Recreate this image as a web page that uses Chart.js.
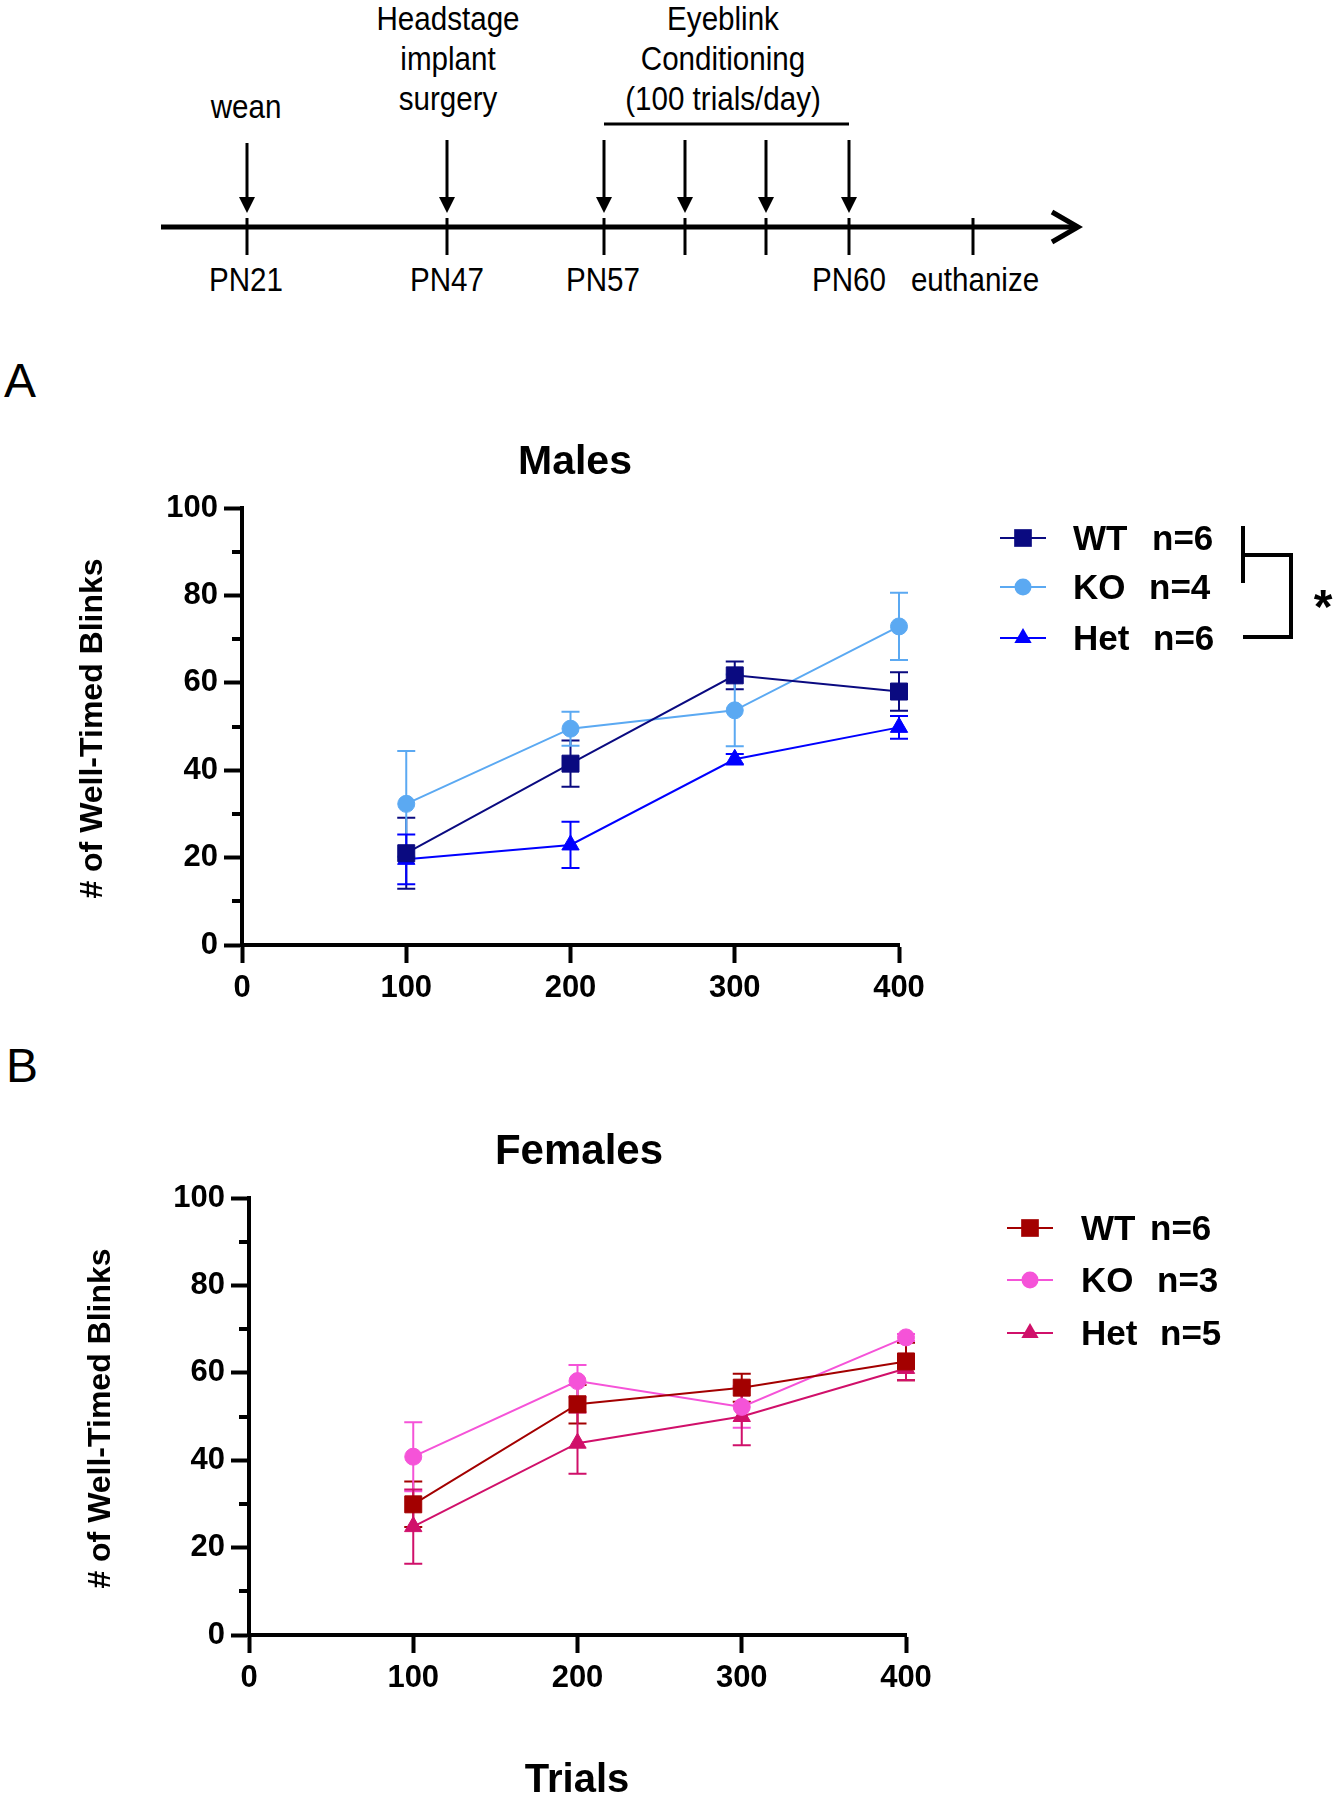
<!DOCTYPE html>
<html>
<head>
<meta charset="utf-8">
<script src="https://cdn.jsdelivr.net/npm/chart.js@4.4.0/dist/chart.umd.min.js"></script>
<style>
html,body{margin:0;padding:0;background:#fff;}
body{width:1340px;height:1800px;position:relative;overflow:hidden;}
#page{position:absolute;left:0;top:0;}
canvas{position:absolute;left:0;}
#cA{top:400px;}
#cB{top:1090px;}
</style>
</head>
<body>
<svg id="page" width="1340" height="1800" xmlns="http://www.w3.org/2000/svg">
  <g stroke="#000" fill="none">
    <line x1="161" y1="227" x2="1076" y2="227" stroke-width="5"/>
    <polyline points="1052,212 1078,227 1052,242" stroke-width="5"/>
    <line x1="604" y1="124" x2="849" y2="124" stroke-width="3"/>
  </g>
  <g id="ticks" stroke="#000" stroke-width="3"></g>
  <g id="arrows"></g>
  <g id="tltext" font-family="'Liberation Sans',Arial,sans-serif" font-size="34" text-anchor="middle" fill="#000"></g>
  <text x="4" y="397" font-family="'Liberation Sans',Arial,sans-serif" font-size="48" fill="#000">A</text>
  <text x="6" y="1082" font-family="'Liberation Sans',Arial,sans-serif" font-size="48" fill="#000">B</text>
</svg>
<canvas id="cA" width="1340" height="620" style="width:1340px;height:620px"></canvas>
<canvas id="cB" width="1340" height="710" style="width:1340px;height:710px"></canvas>
<script>
// ---------- Timeline (schematic) ----------
const tlTickX = [247, 447, 604, 685, 766, 849, 973];
const tlArrowX = [247, 447, 604, 685, 766, 849];
const tlBelowLabels = ['PN21', 'PN47', 'PN57', 'PN60', 'euthanize'];
const tlBelowX = [246, 447, 603, 849, 975];
const tlAboveLines = [['wean'], ['Headstage', 'implant', 'surgery'], ['Eyeblink', 'Conditioning', '(100 trials/day)']];
const tlAboveX = [246, 448, 723];

// ---------- Chart data ----------
const trials = [100, 200, 300, 400];
const xTicks = [0, 100, 200, 300, 400];
const yTicks = [0, 20, 40, 60, 80, 100];
const groups = ['WT', 'KO', 'Het'];

const maleN = ['n=6', 'n=4', 'n=6'];
const maleWT = [21.0, 41.5, 61.7, 58.0];
const maleWTErr = [8.1, 5.3, 3.2, 4.4];
const maleKO = [32.3, 49.5, 53.7, 72.9];
const maleKOErr = [12.1, 3.9, 8.2, 7.7];
const maleHet = [19.6, 22.9, 42.5, 49.8];
const maleHetErr = [5.7, 5.3, 1.2, 2.6];

const femaleN = ['n=6', 'n=3', 'n=5'];
const femaleWT = [29.9, 52.8, 56.6, 62.6];
const femaleWTErr = [5.2, 4.4, 3.2, 4.3];
const femaleKO = [40.8, 58.1, 52.2, 68.1];
const femaleKOErr = [7.9, 3.7, 4.8, 0.8];
const femaleHet = [24.8, 43.9, 50.0, 61.0];
const femaleHetErr = [8.5, 7.0, 6.6, 2.7];

const maleColors = ['#0a0a80', '#5ba9f2', '#0000ff'];
const femaleColors = ['#a30000', '#f553d8', '#d0106a'];
const pointStyles = ['rect', 'circle', 'triangle'];
const pointRadii = [12, 8.5, 10];

// ---------- draw timeline ----------
(function(){
  const NS = 'http://www.w3.org/2000/svg';
  const ticks = document.getElementById('ticks');
  tlTickX.forEach(x => {
    const l = document.createElementNS(NS, 'line');
    l.setAttribute('x1', x); l.setAttribute('x2', x);
    l.setAttribute('y1', 218); l.setAttribute('y2', 255);
    ticks.appendChild(l);
  });
  const arrows = document.getElementById('arrows');
  tlArrowX.forEach((x, i) => {
    const l = document.createElementNS(NS, 'line');
    l.setAttribute('x1', x); l.setAttribute('x2', x);
    l.setAttribute('y1', i === 0 ? 143 : 140); l.setAttribute('y2', 200);
    l.setAttribute('stroke', '#000'); l.setAttribute('stroke-width', 3);
    arrows.appendChild(l);
    const p = document.createElementNS(NS, 'polygon');
    p.setAttribute('points', `${x-8},197 ${x+8},197 ${x},213`);
    p.setAttribute('fill', '#000');
    arrows.appendChild(p);
  });
  const tt = document.getElementById('tltext');
  const addText = (s, x, y) => {
    const t = document.createElementNS(NS, 'text');
    t.setAttribute('x', 0); t.setAttribute('y', 0);
    t.setAttribute('transform', `translate(${x},${y}) scale(0.87,1)`);
    t.textContent = s; tt.appendChild(t);
  };
  tlBelowLabels.forEach((s, i) => addText(s, tlBelowX[i], 291));
  tlAboveLines.forEach((lines, i) => {
    if (lines.length === 1) addText(lines[0], tlAboveX[i], 118);
    else lines.forEach((s, k) => addText(s, tlAboveX[i], 30 + 40 * k));
  });
})();

// ---------- plugins ----------
const FONT = "'Liberation Sans', Arial, Helvetica, sans-serif";
Chart.defaults.font.family = FONT;
Chart.defaults.color = '#000';

const errorBars = {
  id: 'errorBars',
  beforeDatasetsDraw(chart) {
    const ctx = chart.ctx, ys = chart.scales.y;
    chart.data.datasets.forEach((ds, i) => {
      const meta = chart.getDatasetMeta(i);
      ctx.save();
      ctx.strokeStyle = ds.borderColor;
      ctx.lineWidth = 2;
      const cap = 9;
      meta.data.forEach((pt, j) => {
        const v = ds.data[j].y, e = ds.errors[j];
        const yt = ys.getPixelForValue(v + e), yb = ys.getPixelForValue(v - e);
        ctx.beginPath();
        ctx.moveTo(pt.x, yt); ctx.lineTo(pt.x, yb);
        ctx.moveTo(pt.x - cap, yt); ctx.lineTo(pt.x + cap, yt);
        ctx.moveTo(pt.x - cap, yb); ctx.lineTo(pt.x + cap, yb);
        ctx.stroke();
      });
      ctx.restore();
    });
  }
};

function drawMarker(ctx, style, x, y, r, color) {
  ctx.fillStyle = color;
  ctx.beginPath();
  if (style === 'rect') {
    const s = Math.SQRT1_2 * r;
    ctx.rect(x - s, y - s, 2 * s, 2 * s);
  } else if (style === 'circle') {
    ctx.arc(x, y, r, 0, Math.PI * 2);
  } else {
    let a = 0;
    ctx.moveTo(x + Math.sin(a) * r, y - Math.cos(a) * r);
    a += 2 * Math.PI / 3; ctx.lineTo(x + Math.sin(a) * r, y - Math.cos(a) * r);
    a += 2 * Math.PI / 3; ctx.lineTo(x + Math.sin(a) * r, y - Math.cos(a) * r);
    ctx.closePath();
  }
  ctx.fill();
}

const decor = {
  id: 'decor',
  afterDraw(chart, args, o) {
    const ctx = chart.ctx, ys = chart.scales.y, ca = chart.chartArea;
    ctx.save();
    // minor y ticks
    ctx.strokeStyle = '#000'; ctx.lineWidth = 4;
    [10, 30, 50, 70, 90].forEach(v => {
      const y = Math.round(ys.getPixelForValue(v));
      ctx.beginPath(); ctx.moveTo(ca.left - 10, y); ctx.lineTo(ca.left, y); ctx.stroke();
    });
    // title
    ctx.fillStyle = '#000';
    ctx.textAlign = 'center'; ctx.textBaseline = 'alphabetic';
    ctx.font = `bold ${o.titleSize}px ${FONT}`;
    ctx.fillText(o.title, o.titleX, o.titleY);
    // y axis title
    ctx.save();
    ctx.translate(o.yTitleX, (ca.top + ca.bottom) / 2 + 2);
    ctx.rotate(-Math.PI / 2);
    ctx.font = `bold 32px ${FONT}`;
    ctx.textBaseline = 'middle';
    ctx.fillText('# of Well-Timed Blinks', 0, 0);
    ctx.restore();
    // legend
    chart.data.datasets.forEach((ds, i) => {
      const y = o.legRows[i];
      ctx.strokeStyle = ds.borderColor; ctx.lineWidth = 2;
      ctx.beginPath(); ctx.moveTo(o.legLine[0], y); ctx.lineTo(o.legLine[1], y); ctx.stroke();
      drawMarker(ctx, ds.pointStyle, (o.legLine[0] + o.legLine[1]) / 2, y, ds.legendRadius, ds.borderColor);
      ctx.fillStyle = '#000';
      ctx.font = `bold 35px ${FONT}`;
      ctx.textAlign = 'left'; ctx.textBaseline = 'alphabetic';
      ctx.fillText(groups[i], o.legText, y + 12);
      ctx.fillText(o.ns[i], o.legN[i], y + 12);
    });
    // significance bracket
    if (o.bracket) {
      ctx.strokeStyle = '#000'; ctx.lineWidth = 4;
      const b = o.bracket;
      ctx.beginPath();
      ctx.moveTo(b.x0, b.top); ctx.lineTo(b.x0, b.mid2);
      ctx.moveTo(b.x0, b.mid); ctx.lineTo(b.x1, b.mid); ctx.lineTo(b.x1, b.bot); ctx.lineTo(b.x0, b.bot);
      ctx.stroke();
      ctx.fillStyle = '#000';
      ctx.font = `bold 48px ${FONT}`;
      ctx.textAlign = 'center'; ctx.textBaseline = 'alphabetic';
      ctx.fillText('*', b.starX, b.starY);
    }
    // x axis title
    if (o.xTitle) {
      ctx.fillStyle = '#000';
      ctx.font = `bold 40px ${FONT}`;
      ctx.textAlign = 'center'; ctx.textBaseline = 'alphabetic';
      ctx.fillText(o.xTitle, o.xTitleX, o.xTitleY);
    }
    ctx.restore();
  }
};

function makeDatasets(series, errs, colors) {
  return series.map((vals, i) => ({
    label: groups[i],
    data: trials.map((t, j) => ({ x: t, y: vals[j] })),
    errors: errs[i],
    borderColor: colors[i],
    backgroundColor: colors[i],
    pointBackgroundColor: colors[i],
    pointBorderColor: colors[i],
    pointBorderWidth: 1,
    borderWidth: 2,
    pointStyle: pointStyles[i],
    pointRadius: pointRadii[i],
    legendRadius: [12.5, 8.5, 10][i],
    clip: false,
    tension: 0
  }));
}

function axisOpts(axisWidth, isX) {
  return {
    type: 'linear',
    min: 0,
    max: isX ? 400 : 100,
    afterBuildTicks: s => { s.ticks = (isX ? xTicks : yTicks).map(v => ({ value: v })); },
    afterFit: s => { if (isX) s.height = 60; else s.width = axisWidth; },
    grid: { drawOnChartArea: false, tickLength: 18, tickWidth: 4, tickColor: '#000' },
    border: { display: true, width: 4, color: '#000' },
    ticks: { color: '#000', padding: isX ? 7 : 6, font: { size: 31, weight: 'bold', family: FONT } }
  };
}

function makeChart(id, datasets, yAxisWidth, canvasH, decorOpts) {
  return new Chart(document.getElementById(id), {
    type: 'line',
    data: { datasets },
    options: {
      responsive: false,
      animation: false,
      events: [],
      layout: { autoPadding: false, padding: { top: 108, left: 0, right: 1340 - (yAxisWidth + 657), bottom: canvasH - 545 - 60 } },
      scales: { x: axisOpts(0, true), y: axisOpts(yAxisWidth, false) },
      plugins: { legend: { display: false }, tooltip: { enabled: false }, decor: decorOpts }
    },
    plugins: [errorBars, decor]
  });
}

makeChart('cA',
  makeDatasets([maleWT, maleKO, maleHet], [maleWTErr, maleKOErr, maleHetErr], maleColors),
  242, 620,
  {
    title: 'Males', titleSize: 41, titleX: 575, titleY: 74, yTitleX: 93,
    legRows: [138, 187, 238], legLine: [1000, 1046], legText: 1073, legN: [1152, 1149, 1153], ns: maleN,
    bracket: { x0: 1243, x1: 1291, top: 126, mid2: 183, mid: 155, bot: 237, starX: 1323, starY: 223 }
  });

makeChart('cB',
  makeDatasets([femaleWT, femaleKO, femaleHet], [femaleWTErr, femaleKOErr, femaleHetErr], femaleColors),
  249, 710,
  {
    title: 'Females', titleSize: 42, titleX: 579, titleY: 74, yTitleX: 101,
    legRows: [138, 190, 243], legLine: [1007, 1053], legText: 1081, legN: [1150, 1157, 1160], ns: femaleN,
    xTitle: 'Trials', xTitleX: 577, xTitleY: 702
  });
</script>
</body>
</html>
